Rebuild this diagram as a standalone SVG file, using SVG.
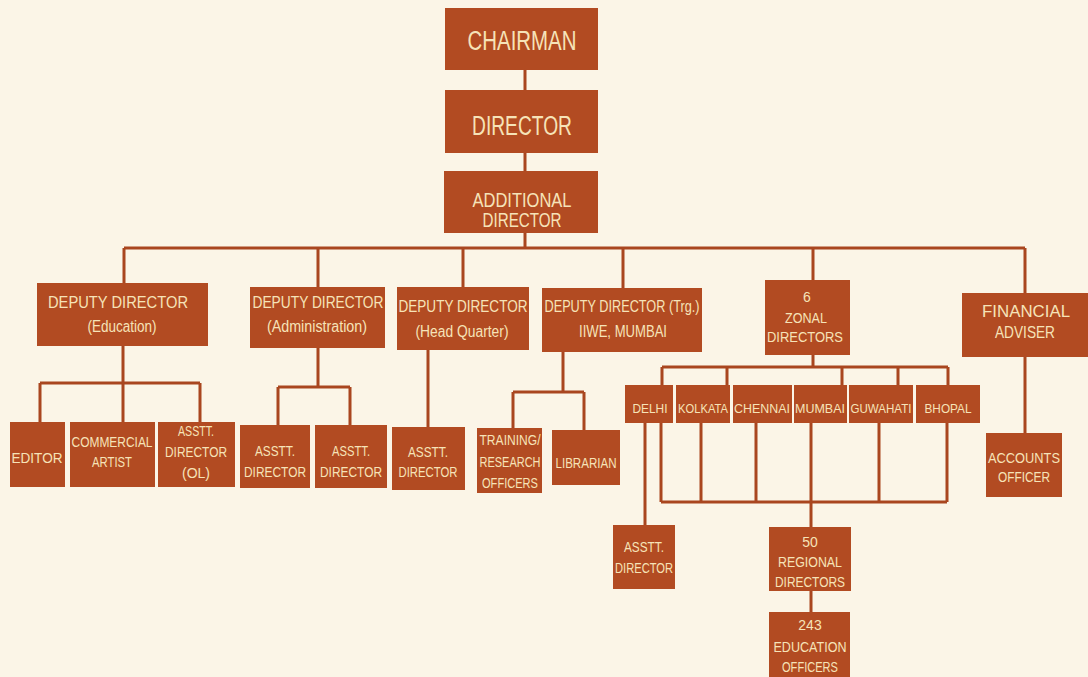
<svg xmlns="http://www.w3.org/2000/svg" width="1088" height="677" viewBox="0 0 1088 677">
<style>
.b{fill:#b24b22}
.t{fill:#f6e3b8;font-family:"Liberation Sans",Arial,sans-serif;text-anchor:middle}
.c{stroke:#a9461f;stroke-width:3;fill:none}
</style>
<rect width="1088" height="677" fill="#fbf5e7"/>
<g id="connectors" class="c">
<path d="M525 70V90M525 153V171M525 233V248M124 248H1025"/>
<path d="M124 248V283M318 248V287M463 248V287M623 248V288M813 248V280M1025 248V293"/>
<path d="M123 346V383M40 383H200M40 383V422M123 383V422M200 383V422"/>
<path d="M318 348V387M278 387H350M278 387V425M350 387V425"/>
<path d="M428 350V427"/>
<path d="M563 352V392M513 392H584M513 392V428M584 392V430"/>
<path d="M813 355V367M662 367H948M662 367V385M727 367V385M842 367V385M898 367V385M948 367V385"/>
<path d="M645 423V525M661 423V502M701 423V502M756 423V502M811 423V527M879 423V502M947 423V502M661 502H947"/>
<path d="M811 591V612M1025 357V433"/>
</g>
<g id="chairman"><rect class="b" x="445" y="8" width="153" height="62"/><text class="t" x="522" y="50" font-size="27" textLength="109" lengthAdjust="spacingAndGlyphs">CHAIRMAN</text></g>
<g id="director"><rect class="b" x="445" y="90" width="153" height="63"/><text class="t" x="522" y="135" font-size="27" textLength="100" lengthAdjust="spacingAndGlyphs">DIRECTOR</text></g>
<g id="additional-director"><rect class="b" x="444" y="171" width="154" height="62"/><text class="t" x="522" y="207" font-size="20" textLength="99" lengthAdjust="spacingAndGlyphs">ADDITIONAL</text><text class="t" x="522" y="227" font-size="20" textLength="79" lengthAdjust="spacingAndGlyphs">DIRECTOR</text></g>
<g id="dd-education"><rect class="b" x="37" y="283" width="171" height="63"/><text class="t" x="118" y="308" font-size="17" textLength="140" lengthAdjust="spacingAndGlyphs">DEPUTY DIRECTOR</text><text class="t" x="122" y="332" font-size="16" textLength="69" lengthAdjust="spacingAndGlyphs">(Education)</text></g>
<g id="dd-admin"><rect class="b" x="250" y="287" width="135" height="61"/><text class="t" x="318" y="308" font-size="17" textLength="131" lengthAdjust="spacingAndGlyphs">DEPUTY DIRECTOR</text><text class="t" x="317" y="332" font-size="16" textLength="100" lengthAdjust="spacingAndGlyphs">(Administration)</text></g>
<g id="dd-hq"><rect class="b" x="397" y="287" width="132" height="63"/><text class="t" x="463" y="312" font-size="17" textLength="129" lengthAdjust="spacingAndGlyphs">DEPUTY DIRECTOR</text><text class="t" x="462" y="337" font-size="16" textLength="93" lengthAdjust="spacingAndGlyphs">(Head Quarter)</text></g>
<g id="dd-trg"><rect class="b" x="542" y="288" width="160" height="64"/><text class="t" x="622" y="312" font-size="17" textLength="155" lengthAdjust="spacingAndGlyphs">DEPUTY DIRECTOR (Trg.)</text><text class="t" x="623" y="337" font-size="17" textLength="88" lengthAdjust="spacingAndGlyphs">IIWE, MUMBAI</text></g>
<g id="zonal-directors"><rect class="b" x="765" y="280" width="85" height="75"/><text class="t" x="807" y="302" font-size="14">6</text><text class="t" x="806" y="323" font-size="14" textLength="42" lengthAdjust="spacingAndGlyphs">ZONAL</text><text class="t" x="805" y="342" font-size="14" textLength="76" lengthAdjust="spacingAndGlyphs">DIRECTORS</text></g>
<g id="financial-adviser"><rect class="b" x="962" y="293" width="126" height="64"/><text class="t" x="1026" y="317" font-size="17" textLength="88" lengthAdjust="spacingAndGlyphs">FINANCIAL</text><text class="t" x="1025" y="338" font-size="17" textLength="60" lengthAdjust="spacingAndGlyphs">ADVISER</text></g>
<g id="editor"><rect class="b" x="10" y="422" width="55" height="65"/><text class="t" x="37" y="463" font-size="14" textLength="51" lengthAdjust="spacingAndGlyphs">EDITOR</text></g>
<g id="commercial-artist"><rect class="b" x="70" y="422" width="85" height="65"/><text class="t" x="112" y="447" font-size="14" textLength="81" lengthAdjust="spacingAndGlyphs">COMMERCIAL</text><text class="t" x="112" y="467" font-size="14" textLength="40" lengthAdjust="spacingAndGlyphs">ARTIST</text></g>
<g id="asstt-director-ol"><rect class="b" x="158" y="422" width="77" height="65"/><text class="t" x="196" y="436" font-size="14" textLength="36" lengthAdjust="spacingAndGlyphs">ASSTT.</text><text class="t" x="196" y="457" font-size="14" textLength="62" lengthAdjust="spacingAndGlyphs">DIRECTOR</text><text class="t" x="196" y="478" font-size="14">(OL)</text></g>
<g id="asstt-director-admin-1"><rect class="b" x="240" y="425" width="70" height="63"/><text class="t" x="275" y="456" font-size="14" textLength="40" lengthAdjust="spacingAndGlyphs">ASSTT.</text><text class="t" x="275" y="477" font-size="14" textLength="62" lengthAdjust="spacingAndGlyphs">DIRECTOR</text></g>
<g id="asstt-director-admin-2"><rect class="b" x="315" y="425" width="72" height="63"/><text class="t" x="351" y="456" font-size="14" textLength="38" lengthAdjust="spacingAndGlyphs">ASSTT.</text><text class="t" x="351" y="477" font-size="14" textLength="62" lengthAdjust="spacingAndGlyphs">DIRECTOR</text></g>
<g id="asstt-director-hq"><rect class="b" x="392" y="427" width="73" height="63"/><text class="t" x="428" y="457" font-size="14" textLength="40" lengthAdjust="spacingAndGlyphs">ASSTT.</text><text class="t" x="428" y="477" font-size="14" textLength="59" lengthAdjust="spacingAndGlyphs">DIRECTOR</text></g>
<g id="training-research"><rect class="b" x="477" y="428" width="65" height="65"/><text class="t" x="510" y="445" font-size="14" textLength="61" lengthAdjust="spacingAndGlyphs">TRAINING/</text><text class="t" x="510" y="467" font-size="14" textLength="61" lengthAdjust="spacingAndGlyphs">RESEARCH</text><text class="t" x="510" y="488" font-size="14" textLength="56" lengthAdjust="spacingAndGlyphs">OFFICERS</text></g>
<g id="librarian"><rect class="b" x="552" y="430" width="68" height="55"/><text class="t" x="586" y="468" font-size="14" textLength="61" lengthAdjust="spacingAndGlyphs">LIBRARIAN</text></g>
<g id="delhi"><rect class="b" x="625" y="385" width="48" height="38"/><text class="t" x="650" y="413" font-size="13" textLength="35" lengthAdjust="spacingAndGlyphs">DELHI</text></g>
<g id="kolkata"><rect class="b" x="676" y="385" width="54" height="38"/><text class="t" x="703" y="413" font-size="13" textLength="50" lengthAdjust="spacingAndGlyphs">KOLKATA</text></g>
<g id="chennai"><rect class="b" x="733" y="385" width="59" height="38"/><text class="t" x="762" y="413" font-size="13" textLength="56" lengthAdjust="spacingAndGlyphs">CHENNAI</text></g>
<g id="mumbai"><rect class="b" x="794" y="385" width="53" height="38"/><text class="t" x="820" y="413" font-size="13" textLength="50" lengthAdjust="spacingAndGlyphs">MUMBAI</text></g>
<g id="guwahati"><rect class="b" x="849" y="385" width="64" height="38"/><text class="t" x="881" y="413" font-size="13" textLength="61" lengthAdjust="spacingAndGlyphs">GUWAHATI</text></g>
<g id="bhopal"><rect class="b" x="916" y="385" width="64" height="38"/><text class="t" x="948" y="413" font-size="13" textLength="47" lengthAdjust="spacingAndGlyphs">BHOPAL</text></g>
<g id="accounts-officer"><rect class="b" x="986" y="433" width="76" height="64"/><text class="t" x="1024" y="463" font-size="15" textLength="72" lengthAdjust="spacingAndGlyphs">ACCOUNTS</text><text class="t" x="1024" y="482" font-size="15" textLength="52" lengthAdjust="spacingAndGlyphs">OFFICER</text></g>
<g id="asstt-director-delhi"><rect class="b" x="613" y="525" width="62" height="64"/><text class="t" x="644" y="552" font-size="14" textLength="40" lengthAdjust="spacingAndGlyphs">ASSTT.</text><text class="t" x="644" y="573" font-size="14" textLength="58" lengthAdjust="spacingAndGlyphs">DIRECTOR</text></g>
<g id="regional-directors"><rect class="b" x="769" y="527" width="82" height="64"/><text class="t" x="810" y="547" font-size="14">50</text><text class="t" x="810" y="567" font-size="14" textLength="64" lengthAdjust="spacingAndGlyphs">REGIONAL</text><text class="t" x="810" y="587" font-size="14" textLength="70" lengthAdjust="spacingAndGlyphs">DIRECTORS</text></g>
<g id="education-officers"><rect class="b" x="769" y="612" width="81" height="65"/><text class="t" x="810" y="630" font-size="14">243</text><text class="t" x="810" y="652" font-size="15" textLength="73" lengthAdjust="spacingAndGlyphs">EDUCATION</text><text class="t" x="810" y="672" font-size="15" textLength="56" lengthAdjust="spacingAndGlyphs">OFFICERS</text></g>
</svg>
